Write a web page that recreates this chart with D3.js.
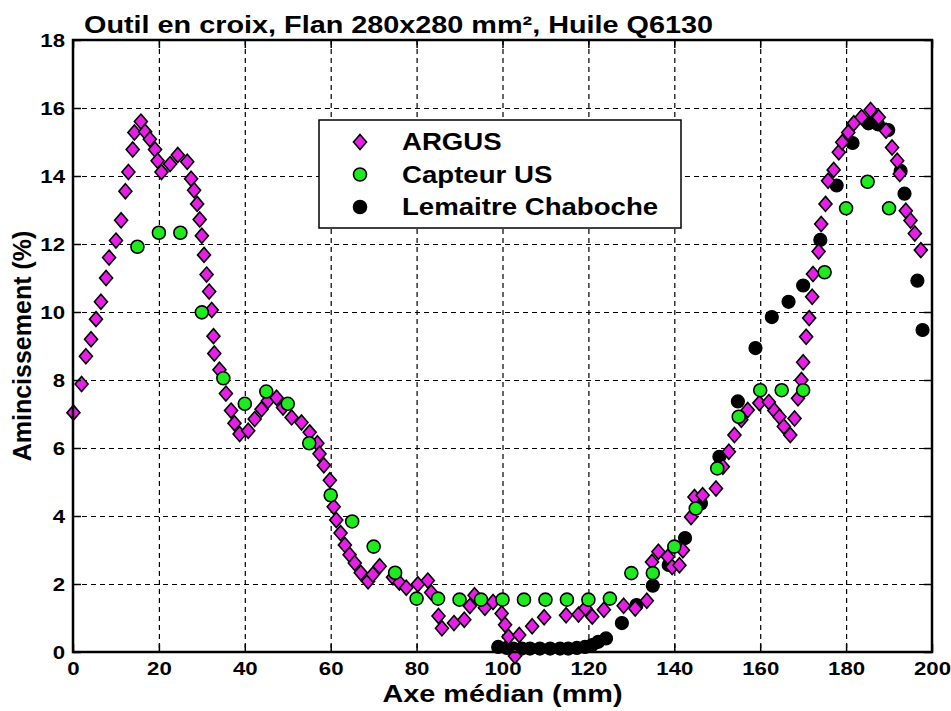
<!DOCTYPE html>
<html>
<head>
<meta charset="utf-8">
<script src="https://cdn.jsdelivr.net/npm/d3@7"></script>
<style>
  body { margin: 0; background: #fff; }
  text { font-family: "Liberation Sans", Arial, sans-serif; font-weight: bold; fill: #000; }
</style>
</head>
<body>
<div id="chart"></div>
<script>
// ---- data ----
const title  = "Outil en croix, Flan 280x280 mm², Huile Q6130";
const xLabel = "Axe médian (mm)";
const yLabel = "Amincissement (%)";
const xTicks = [0, 20, 40, 60, 80, 100, 120, 140, 160, 180, 200];
const yTicks = [0, 2, 4, 6, 8, 10, 12, 14, 16, 18];
const seriesNames = ["ARGUS", "Capteur US", "Lemaitre Chaboche"];

const argus = [
  [0.1,7.04],[2.0,7.88],[3.0,8.7],[4.2,9.2],[5.35,9.79],[6.5,10.3],[7.7,11.0],[8.4,11.6],
  [10.0,12.1],[11.2,12.7],[12.2,13.55],[12.9,14.12],[13.9,14.78],[14.3,15.28],[15.8,15.6],
  [16.8,15.3],[17.9,15.08],[19.1,14.78],[19.7,14.45],[20.6,14.12],[22.6,14.35],[24.4,14.62],
  [26.6,14.42],[27.5,13.92],[28.2,13.58],[28.9,13.18],[29.5,12.72],[30.0,12.24],[30.5,11.68],
  [31.1,11.1],[31.7,10.6],[32.3,10.06],[32.7,9.29],[32.9,8.78],[34.1,8.3],[35.6,7.6],
  [36.8,7.1],[37.6,6.73],[38.8,6.41],[40.8,6.51],[42.3,6.85],[43.9,7.14],[45.4,7.39],
  [47.4,7.48],[48.9,7.19],[50.9,6.9],[53.2,6.75],[55.1,6.46],[56.9,6.14],[57.4,5.83],
  [58.4,5.49],[59.8,5.05],[60.7,4.27],[61.3,3.88],[62.3,3.5],[63.3,3.15],[64.4,2.86],
  [65.6,2.62],[67.0,2.33],[68.7,2.08],[69.8,2.28],[71.4,2.52],[74.5,2.2],[76.0,2.04],
  [77.6,1.89],[80.3,1.99],[82.6,2.1],[83.4,1.75],[85.1,1.06],[85.9,0.7],[88.7,0.85],
  [91.1,0.95],[92.4,1.35],[93.5,1.67],[95.9,1.3],[97.8,1.47],[99.8,1.13],[100.6,0.8],
  [101.4,0.45],[102.9,-0.12],[103.9,0.5],[106.9,0.76],[109.7,1.02],[114.8,1.08],[117.7,1.1],
  [119.3,1.29],[120.9,1.04],[123.6,1.24],[128.2,1.36],[130.9,1.28],[133.6,1.51],[134.8,2.65],
  [136.3,2.95],[138.5,2.8],[139.5,2.5],[141.2,2.55],[142.0,2.99],[143.9,3.97],[144.7,4.56],
  [146.6,4.61],[149.7,4.81],[151.3,5.45],[152.7,5.89],[154.0,6.38],[155.6,6.83],[157.1,7.12],
  [159.8,7.32],[162.0,7.35],[163.3,7.1],[164.5,6.92],[165.5,6.63],[167.0,6.38],[168.0,6.87],
  [168.8,7.46],[169.6,8.0],[170.0,8.52],[170.7,9.27],[171.4,9.82],[172.1,10.45],[172.3,11.12],
  [173.6,11.78],[174.2,12.59],[175.2,13.18],[175.8,13.86],[177.1,14.18],[178.3,14.7],
  [179.1,14.99],[180.5,15.28],[181.8,15.55],[183.6,15.73],[185.7,15.94],[187.6,15.73],
  [189.3,15.33],[190.7,14.84],[191.9,14.45],[192.5,14.06],[193.9,12.98],[195.0,12.69],
  [196.0,12.31],[197.4,11.82]
];

const capteur = [
  [15,11.92],[20,12.33],[25,12.33],[30,9.99],[35,8.05],[40,7.3],[45,7.66],[50,7.3],[55,6.14],
  [60,4.61],[65,3.84],[70,3.1],[75,2.33],[80,1.57],[85,1.57],[90,1.54],[95,1.54],[100,1.54],
  [105,1.54],[110,1.54],[115,1.54],[120,1.54],[125,1.57],[130,2.32],[135,2.32],[140,3.1],
  [145,4.22],[150,5.4],[155,6.92],[160,7.7],[165,7.7],[170,7.7],[175,11.17],[180,13.05],
  [185,13.83],[190,13.05]
];

const lemaitre = [
  [99.0,0.15],[101.0,0.12],[102.5,0.1],[104.5,0.1],[106.4,0.1],[108.7,0.1],[111.1,0.1],
  [113.4,0.1],[115.3,0.1],[117.3,0.12],[119.2,0.15],[120.8,0.2],[122.3,0.3],[124.1,0.4],
  [127.8,0.85],[131.2,1.38],[135.0,1.95],[138.7,2.56],[142.5,3.35],[146.2,4.37],[150.5,5.74],
  [154.8,7.37],[158.9,8.94],[162.7,9.85],[166.6,10.3],[170.0,10.78],[174.0,12.12],[177.8,13.72],
  [181.5,14.97],[185.2,15.55],[187.4,15.52],[189.8,15.35],[192.7,14.15],[193.6,13.48],
  [196.6,10.92],[197.8,9.47]
];

// ---- layout ----
const W = 951, H = 711;
const M = { top: 40, right: 19, bottom: 59, left: 73 };
const iW = W - M.left - M.right;
const iH = H - M.top - M.bottom;
const STRETCH = 1.2;   // reference text is drawn wide

const MAGENTA = "#e61ee6", GREEN = "#1eeb1e";
const diamond = "M0,-7.5L6.5,0L0,7.5L-6.5,0Z";

const svg = d3.select("#chart").append("svg")
  .attr("width", W).attr("height", H)
  .attr("viewBox", `0 0 ${W} ${H}`);
svg.append("rect").attr("width", W).attr("height", H).attr("fill", "#fff");

const g = svg.append("g").attr("transform", `translate(${M.left},${M.top})`);

const x = d3.scaleLinear().domain([0, 200]).range([0, iW]);
const y = d3.scaleLinear().domain([0, 18]).range([iH, 0]);

// dashed grid
g.append("g")
  .call(d3.axisBottom(x).tickValues(xTicks.slice(1, -1)).tickSize(iH).tickFormat(""))
  .call(a => a.select(".domain").remove())
  .call(a => a.selectAll(".tick line").attr("stroke", "#000").attr("stroke-width", 1.2)
    .attr("stroke-dasharray", "5,4"));
g.append("g")
  .call(d3.axisLeft(y).tickValues(yTicks.slice(1, -1)).tickSize(-iW).tickFormat(""))
  .call(a => a.select(".domain").remove())
  .call(a => a.selectAll(".tick line").attr("stroke", "#000").attr("stroke-width", 1.2)
    .attr("stroke-dasharray", "5,4"));

// markers: black, then magenta, then green on top
g.selectAll(".lem").data(lemaitre).join("circle")
  .attr("cx", d => x(d[0])).attr("cy", d => y(d[1])).attr("r", 6.5)
  .attr("fill", "#000").attr("stroke", "#000").attr("stroke-width", 1.2);

g.selectAll(".arg").data(argus).join("path")
  .attr("d", diamond)
  .attr("transform", d => `translate(${x(d[0])},${y(d[1])})`)
  .attr("fill", MAGENTA).attr("stroke", "#000").attr("stroke-width", 1.6);

g.selectAll(".cap").data(capteur).join("circle")
  .attr("cx", d => x(d[0])).attr("cy", d => y(d[1])).attr("r", 6.5)
  .attr("fill", GREEN).attr("stroke", "#000").attr("stroke-width", 1.6);

// axes with inward ticks on all four sides
const tickStyle = a => a.selectAll(".tick line").attr("stroke", "#000").attr("stroke-width", 1.5);
g.append("g").attr("transform", `translate(0,${iH})`)
  .call(d3.axisBottom(x).tickValues(xTicks).tickSize(-8).tickSizeOuter(0))
  .call(tickStyle)
  .call(a => a.select(".domain").remove())
  .call(a => a.selectAll("text").attr("class", "wide").attr("font-size", 18.5)
    .attr("y", 10).attr("dy", "0.71em"));
g.append("g")
  .call(d3.axisLeft(y).tickValues(yTicks).tickSize(-8).tickSizeOuter(0))
  .call(tickStyle)
  .call(a => a.select(".domain").remove())
  .call(a => a.selectAll("text").attr("class", "wide").attr("font-size", 18.5)
    .attr("x", -8).attr("dy", "0.36em"));
g.append("g")
  .call(d3.axisTop(x).tickValues(xTicks).tickSize(-8).tickSizeOuter(0).tickFormat(""))
  .call(tickStyle).call(a => a.select(".domain").remove());
g.append("g").attr("transform", `translate(${iW},0)`)
  .call(d3.axisRight(y).tickValues(yTicks).tickSize(-8).tickSizeOuter(0).tickFormat(""))
  .call(tickStyle).call(a => a.select(".domain").remove());

g.append("rect").attr("width", iW).attr("height", iH)
  .attr("fill", "none").attr("stroke", "#000").attr("stroke-width", 2.5);

// legend
const leg = svg.append("g").attr("transform", "translate(319,120)");
leg.append("rect").attr("width", 362).attr("height", 108)
  .attr("fill", "#fff").attr("stroke", "#000").attr("stroke-width", 1.5);
const rows = leg.selectAll(".row").data(seriesNames).join("g")
  .attr("transform", (d, i) => `translate(0,${22 + i * 32.5})`);
rows.each(function (d, i) {
  const r = d3.select(this);
  if (i === 0) r.append("path").attr("d", diamond).attr("transform", "translate(41,0)")
    .attr("fill", MAGENTA).attr("stroke", "#000").attr("stroke-width", 1.6);
  else r.append("circle").attr("cx", 41).attr("r", 6.5)
    .attr("fill", i === 1 ? GREEN : "#000").attr("stroke", "#000").attr("stroke-width", 1.6);
});
rows.append("text").attr("class", "wide").attr("x", 83).attr("dy", "0.36em")
  .attr("font-size", 23).text(d => d);

// titles
svg.append("text").attr("class", "wide").attr("x", 84).attr("y", 33)
  .attr("font-size", 24).text(title);
svg.append("text").attr("class", "wide").attr("x", M.left + iW / 2).attr("y", 702)
  .attr("text-anchor", "middle").attr("font-size", 24).text(xLabel);
svg.append("text").attr("transform", `translate(31,${M.top + iH / 2}) rotate(-90)`)
  .attr("text-anchor", "middle").attr("font-size", 25).text(yLabel);

// widen horizontal text to match the stretched reference
svg.selectAll("text.wide").each(function () {
  const len = this.getComputedTextLength();
  d3.select(this).attr("textLength", len * STRETCH).attr("lengthAdjust", "spacingAndGlyphs");
});
</script>
</body>
</html>
